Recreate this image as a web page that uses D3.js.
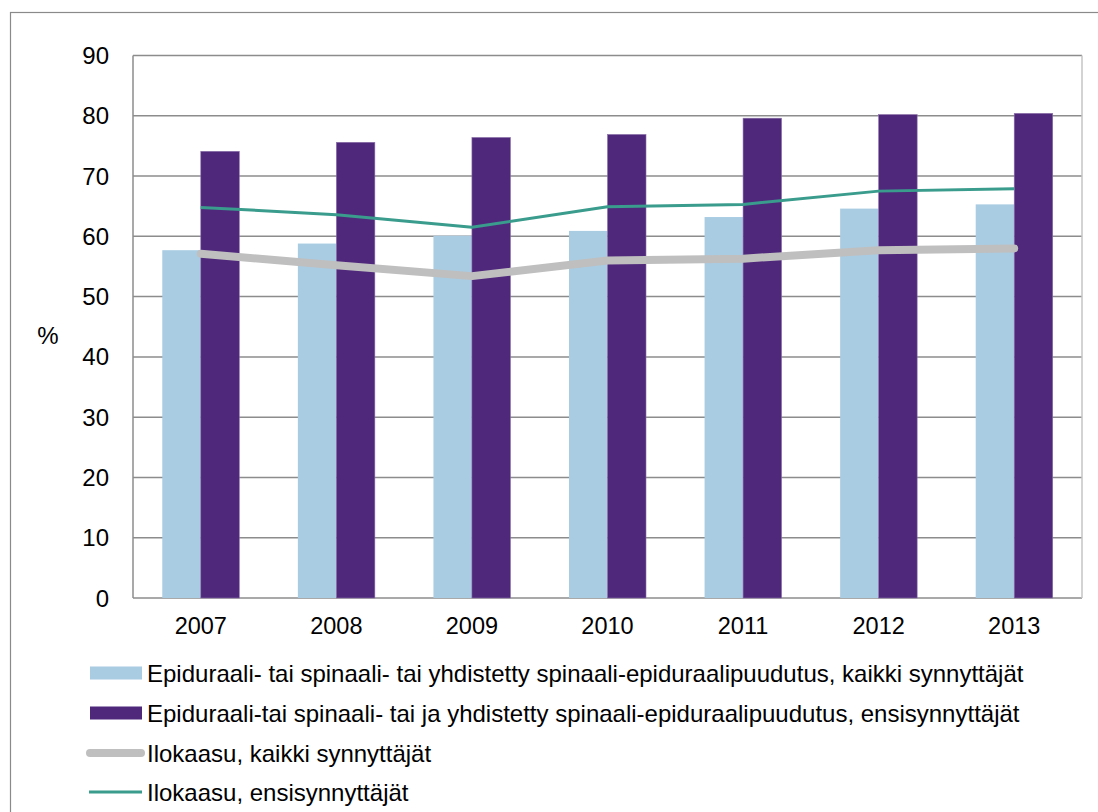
<!DOCTYPE html>
<html><head><meta charset="utf-8">
<script src="https://cdn.jsdelivr.net/npm/d3@7"></script>
<style>body{margin:0;background:#fff;} text{font-family:"Liberation Sans",Arial,sans-serif;fill:#000;}</style>
</head><body>
<svg id="c" width="1098" height="812"></svg>
<script>
const years = ["2007","2008","2009","2010","2011","2012","2013"];
const epiduralAll = [57.7, 58.8, 60.1, 60.9, 63.2, 64.6, 65.3];
const epiduralFirst = [74.1, 75.6, 76.4, 76.9, 79.6, 80.2, 80.4];
const nitrousAll = [57.1, 55.2, 53.4, 56.0, 56.3, 57.7, 58.0];
const nitrousFirst = [64.8, 63.6, 61.5, 64.9, 65.3, 67.5, 67.9];
const yTicks = [0,10,20,30,40,50,60,70,80,90];
const legendLabels = [
  "Epiduraali- tai spinaali- tai yhdistetty spinaali-epiduraalipuudutus, kaikki synnyttäjät",
  "Epiduraali-tai spinaali- tai ja yhdistetty spinaali-epiduraalipuudutus, ensisynnyttäjät",
  "Ilokaasu, kaikki synnyttäjät",
  "Ilokaasu, ensisynnyttäjät"
];
const cLight = "#A9CCE3", cDark = "#4F287C", cGray = "#BFBFBF", cTeal = "#3A9C8C";

const svg = d3.select("#c");
const L = 133, R = 1082, T = 55.5, B = 598;
svg.append("rect").attr("x",10.5).attr("y",12.5).attr("width",1100).attr("height",820)
  .attr("fill","none").attr("stroke","#8a8a8a").attr("stroke-width",1.2);

const x = d3.scaleBand().domain(years).range([L,R]).paddingInner(0).paddingOuter(0);
const y = d3.scaleLinear().domain([0,90]).range([B,T]);
const barW = 38.5;

svg.append("g").selectAll("line").data(yTicks).join("line")
  .attr("x1",L).attr("x2",R).attr("y1",d=>y(d)).attr("y2",d=>y(d))
  .attr("stroke","#8c8c8c").attr("stroke-width",1.5);
svg.append("line").attr("x1",L).attr("x2",L).attr("y1",T).attr("y2",B).attr("stroke","#8c8c8c").attr("stroke-width",1.5);
svg.append("line").attr("x1",R).attr("x2",R).attr("y1",T).attr("y2",B).attr("stroke","#c4c4c4").attr("stroke-width",1.5);

const cx = d => x(d) + x.bandwidth()/2;
svg.append("g").selectAll("rect").data(years).join("rect")
  .attr("x",d=>cx(d)-barW).attr("width",barW)
  .attr("y",(d,i)=>y(epiduralAll[i])).attr("height",(d,i)=>B-y(epiduralAll[i]))
  .attr("fill",cLight);
svg.append("g").selectAll("rect").data(years).join("rect")
  .attr("x",d=>cx(d)).attr("width",barW)
  .attr("y",(d,i)=>y(epiduralFirst[i])).attr("height",(d,i)=>B-y(epiduralFirst[i]))
  .attr("fill",cDark).attr("stroke","#8a70a8").attr("stroke-width",0.6);

const line = d3.line().x((d,i)=>cx(years[i])).y(d=>y(d));
svg.append("path").datum(nitrousAll).attr("d",line).attr("fill","none")
  .attr("stroke",cGray).attr("stroke-width",8).attr("stroke-linecap","round").attr("stroke-linejoin","round");
svg.append("path").datum(nitrousFirst).attr("d",line).attr("fill","none")
  .attr("stroke",cTeal).attr("stroke-width",3).attr("stroke-linejoin","round");

svg.append("g").selectAll("text").data(yTicks).join("text")
  .attr("x",109).attr("y",d=>y(d)+8.6).attr("text-anchor","end")
  .attr("font-size",24).text(d=>d);
svg.append("text").attr("x",48).attr("y",344).attr("text-anchor","middle")
  .attr("font-size",24).text("%");
svg.append("g").selectAll("text").data(years).join("text")
  .attr("x",d=>cx(d)).attr("y",634).attr("text-anchor","middle")
  .attr("font-size",23.5).text(d=>d);

const ly = [673, 713, 753, 792];
const lg = svg.append("g");
lg.append("rect").attr("x",90).attr("y",ly[0]-6.5).attr("width",52).attr("height",13).attr("fill",cLight);
lg.append("rect").attr("x",90).attr("y",ly[1]-6.5).attr("width",52).attr("height",13).attr("fill",cDark);
lg.append("line").attr("x1",90).attr("x2",141).attr("y1",ly[2]).attr("y2",ly[2]).attr("stroke",cGray).attr("stroke-width",8).attr("stroke-linecap","round");
lg.append("line").attr("x1",89).attr("x2",142).attr("y1",ly[3]).attr("y2",ly[3]).attr("stroke",cTeal).attr("stroke-width",3);
lg.selectAll("text").data(legendLabels).join("text")
  .attr("x",147).attr("y",(d,i)=>ly[i]+8.5).attr("font-size",24).text(d=>d);
</script>
</body></html>
